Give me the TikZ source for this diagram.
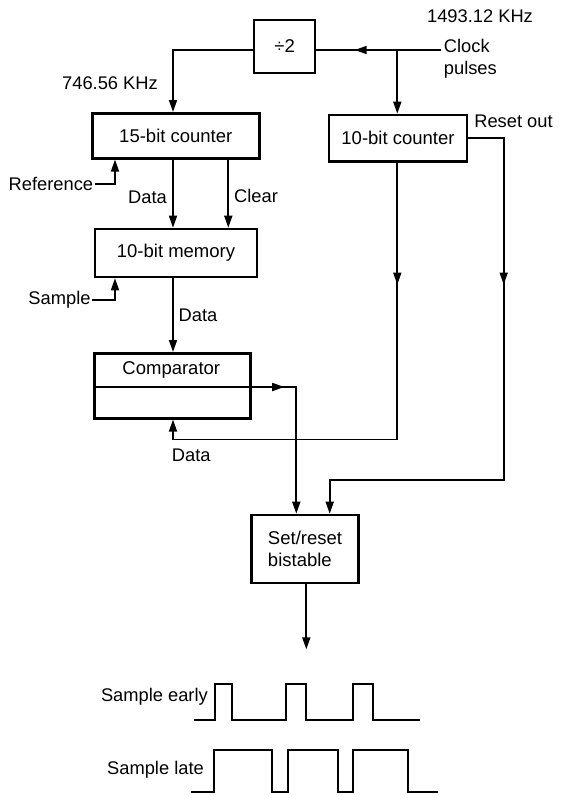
\documentclass[tikz,border=0pt]{standalone}
\usepackage{fontspec}
\setmainfont{Liberation Sans}
\usetikzlibrary{arrows.meta,decorations.markings,calc}
\begin{document}
\begin{tikzpicture}[x=1pt,y=-1pt,
  box/.style={draw, line width=2.6pt, inner sep=0pt, font=\fontsize{18.5}{21.6}\selectfont},
  lbl/.style={inner sep=0pt, font=\fontsize{18.3}{21.6}\selectfont},
  wire/.style={line width=1.7pt},
  arr/.style={wire, -{Triangle[length=12pt,width=8pt]}},
  midarr/.style={wire, postaction={decorate}, decoration={markings, mark=at position #1 with {\arrow{Triangle[length=12pt,width=8pt]}}}},
  wave/.style={line width=2.2pt}
]
\useasboundingbox (0,0) rectangle (566,795);

% boxes
\node[box, minimum width=61pt, minimum height=53pt] (div) at (284.6,46.3) {÷2};
\node[box, minimum width=167pt, minimum height=45pt] (c15) at (175.8,135.8) {15-bit counter};
\node[box, minimum width=138pt, minimum height=46.7pt] (c10) at (398,138.3) {10-bit counter};
\node[box, minimum width=162pt, minimum height=48pt] (mem) at (176,253) {10-bit memory};
\node[box, minimum width=156pt, minimum height=65pt] (comp) at (172.2,385.8) {};
\node[lbl, font=\fontsize{18.5}{21.6}\selectfont] (comptext) at (171.3,370) {Comparator};
\node[box, minimum width=107pt, minimum height=68pt, align=left] (bist) at (305,549) {Set/reset\\bistable};

% labels
\node[lbl] (f1) at (480,16.7) {1493.12 KHz};
\node[lbl, align=left, anchor=west] (clk) at (443.7,58.5) {Clock\\pulses};
\node[lbl] (f2) at (110,82.7) {746.56 KHz};
\node[lbl, anchor=east] (ref) at (93.3,184) {Reference};
\node[lbl, anchor=east] (smp) at (90.7,300) {Sample};
\node[lbl] (ld1) at (147.5,197) {Data};
\node[lbl] (lclr) at (256,196) {Clear};
\node[lbl] (ld2) at (198,315) {Data};
\node[lbl] (ld3) at (191.3,455.7) {Data};
\node[lbl] (lrst) at (513.5,121.7) {Reset out};

% helper coordinates
\coordinate (clkin) at (441.3,50);
\coordinate (br) at (397.3,50);
\coordinate (xa) at (173,0);
\coordinate (xr) at (115,0);
\coordinate (xc) at (228.3,0);
\coordinate (xm) at (397.3,0);
\coordinate (ylow) at (0,439.5);
\coordinate (yr) at (0,138.3);
\coordinate (xs) at (503.7,0);
\coordinate (ylow2) at (0,480);
\coordinate (xt) at (329.7,0);
\coordinate (yd) at (0,387);
\coordinate (xb) at (296.3,0);
\coordinate (xo) at (306.3,0);
\coordinate (out) at (306.3,649.3);

% connectors
\draw[midarr=86.6pt] (clkin) -- (div.east |- clkin);
\draw[arr] (br) -- (br |- c10.north);
\draw[arr] (div.west |- clkin) -| (xa |- c15.north);
\draw[arr] (ref.east) ++(1.5,0) -| (xr |- c15.south);
\draw[arr] (xa |- c15.south) -- (xa |- mem.north);
\draw[arr] (xc |- c15.south) -- (xc |- mem.north);
\draw[arr] (smp.east) ++(1.5,0) -| (xr |- mem.south);
\draw[arr] (xa |- mem.south) -- (xa |- comp.north);
\draw[arr, midarr=121.6pt] (xm |- c10.south) -- (xm |- ylow) -| (xa |- comp.south);
\draw[arr, midarr=181.7pt] (c10.east |- yr) -| (xs |- ylow2) -| (xt |- bist.north);
\draw[wire] (comp.west |- yd) -- (comp.east |- yd);
\draw[arr, midarr=32.7pt] (comp.east |- yd) -| (xb |- bist.north);
\draw[arr] (xo |- bist.south) -- (out);

% waveforms
\node[lbl, anchor=east] (se) at (208,696.7) {Sample early};
\draw[wave] (194,720) -- (215,720) -- (215,684) -- (231.7,684) -- (231.7,720) -- (286.3,720) -- (286.3,684) -- (306.3,684) -- (306.3,720) -- (353,720) -- (353,684) -- (373,684) -- (373,720) -- (419.7,720);
\node[lbl, anchor=east] (sl) at (204,769.3) {Sample late};
\draw[wave] (190.7,791.7) -- (214,791.7) -- (214,750) -- (271.7,750) -- (271.7,791.7) -- (288,791.7) -- (288,750) -- (338,750) -- (338,791.7) -- (353,791.7) -- (353,750) -- (408,750) -- (408,791.7) -- (438,791.7);
\end{tikzpicture}
\end{document}
